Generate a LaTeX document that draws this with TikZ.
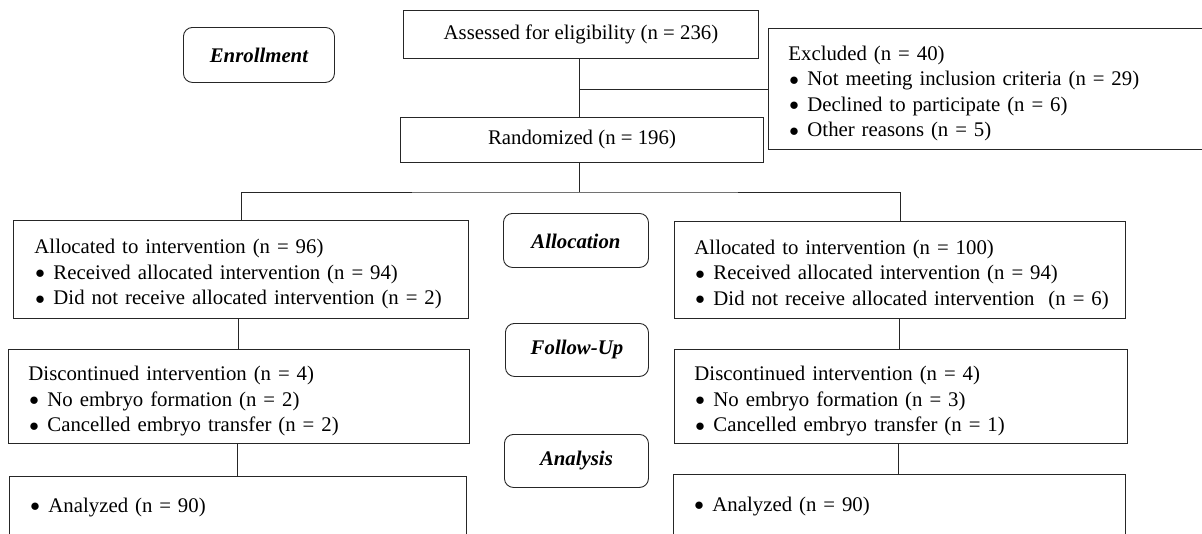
\documentclass[tikz,border=0pt]{standalone}
\usepackage{fontspec}
\usepackage{graphicx}
\setmainfont{Liberation Serif}
\newcommand\fs{\fontsize{20.8pt}{25.5pt}\selectfont}
\newcommand\bit{\hspace*{1pt}\makebox[18pt][l]{\raisebox{0.6pt}{\scalebox{0.92}{$\bullet$}}}}
\newcommand\topst{\rule{0pt}{24pt}}
\tikzset{
  box/.style={draw=black!85, line width=0.9pt, rectangle, anchor=north west,
    inner xsep=20pt, inner ysep=0pt, align=left, font=\fs},
  cbox/.style={draw=black!85, line width=0.9pt, rectangle, anchor=north west,
    inner sep=0pt, align=center, font=\fs},
  phase/.style={draw=black!85, line width=0.9pt, rounded corners=9pt, anchor=north west,
    inner sep=0pt, minimum width=145pt, minimum height=54pt, align=center,
    font=\fs\bfseries\itshape},
  link/.style={draw=black!85, line width=0.9pt},
}
\begin{document}
\begin{tikzpicture}[x=1pt,y=-1pt]
\useasboundingbox (0,0) rectangle (1202,533);
\clip (0,0) rectangle (1202,533);
% phase labels
\node[phase, minimum width=151pt, minimum height=55pt] (enroll) at (183,27) {Enrollment};
\node[phase] (alloc) at (503,213) {\rule{0pt}{17pt}Allocation};
\node[phase, minimum width=143pt, minimum height=53pt] (follow) at (505,323) {Follow-Up};
\node[phase, minimum width=144pt, minimum height=53pt] (analysis) at (504,434) {Analysis};
% top boxes
\node[cbox, minimum width=355pt, minimum height=48pt] (assessed) at (403,10) {Assessed for eligibility (n = 236)};
\node[cbox, minimum width=363pt, minimum height=45pt] (random) at (400,117) {Randomized (n = 196)};
\node[box, minimum height=121pt, text width=402pt] (excluded) at (768,28)
  {\mbox{\topst Excluded (n = 40)}\\
   \mbox{\bit Not meeting inclusion criteria (n = 29)}\\
   \mbox{\bit Declined to participate (n = 6)}\\
   \mbox{\bit Other reasons (n = 5)}};
% allocation boxes
\node[box, minimum height=98pt, text width=413pt, inner xsep=21pt] (allocL) at (13,220)
  {\mbox{\topst Allocated to intervention (n = 96)}\\
   \mbox{\bit Received allocated intervention (n = 94)}\\
   \mbox{\bit Did not receive allocated intervention (n = 2)}};
\node[box, minimum height=97pt, text width=411pt] (allocR) at (674,221)
  {\mbox{\topst Allocated to intervention (n = 100)}\\
   \mbox{\bit Received allocated intervention (n = 94)}\\
   \mbox{\bit Did not receive allocated intervention\ \ (n = 6)}};
% follow-up boxes
\node[box, minimum height=94pt, text width=421pt] (discL) at (8,349)
  {\mbox{\topst Discontinued intervention (n = 4)}\\
   \mbox{\bit No embryo formation (n = 2)}\\
   \mbox{\bit Cancelled embryo transfer (n = 2)}};
\node[box, minimum height=94pt, text width=413pt] (discR) at (674,349)
  {\mbox{\topst Discontinued intervention (n = 4)}\\
   \mbox{\bit No embryo formation (n = 3)}\\
   \mbox{\bit Cancelled embryo transfer (n = 1)}};
% analysis boxes
\node[box, minimum height=62pt, text width=417pt] (anaL) at (9,476)
  {\mbox{\bit Analyzed (n = 90)}};
\node[box, minimum height=64pt, text width=412pt] (anaR) at (673,474)
  {\mbox{\bit Analyzed (n = 90)}};
% connectors
\coordinate (split) at (579,192);
\draw[link] (assessed.south -| split) -- (random.north -| split);
\draw[link] (excluded.west) -- (excluded.west -| split);
\draw[link] (random.south -| split) -- (split);
\draw[link] (allocL.north) |- (split) -| (allocR.north);
\draw[link] (allocL.south -| 238,0) -- (discL.north -| 238,0);
\draw[link] (discL.south -| 237,0) -- (anaL.north -| 237,0);
\draw[link] (allocR.south -| 899,0) -- (discR.north -| 899,0);
\draw[link] (discR.south -| 898,0) -- (anaR.north -| 898,0);
\end{tikzpicture}
\end{document}
